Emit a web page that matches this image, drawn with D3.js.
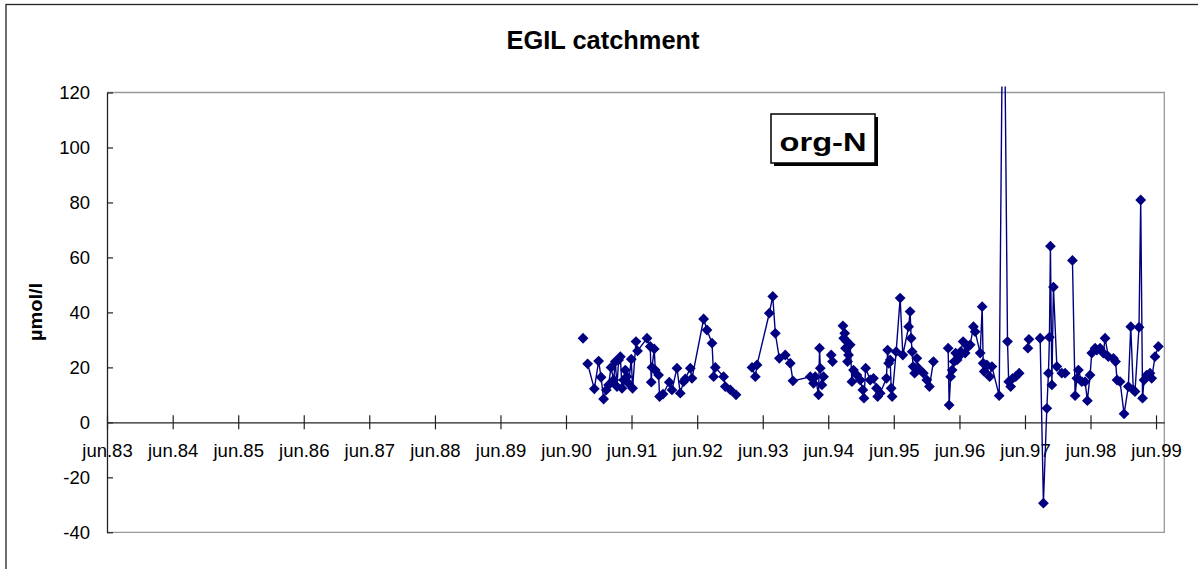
<!DOCTYPE html>
<html><head><meta charset="utf-8">
<script src="https://cdn.jsdelivr.net/npm/d3@7"></script>
<style>body{margin:0;background:#fff}svg{display:block}text{font-family:"Liberation Sans",Arial,sans-serif}</style>
</head><body>
<script>
// ---- data (decimal year of sampling, org-N in µmol/l; null = gap in the series) ----
const sampleYear = [
1990.674,null,
1990.744,1990.846,1990.912,1990.949,1990.988,1991.029,1991.064,1991.101,1991.141,1991.167,1991.192,1991.217,1991.243,1991.269,1991.293,1991.319,1991.345,1991.369,1991.410,1991.430,1991.482,1991.506,1991.650,1991.700,1991.715,1991.726,1991.761,1991.776,1991.827,1991.842,1991.894,1991.990,1992.031,1992.107,1992.157,1992.208,1992.234,1992.310,1992.336,1992.513,1992.564,1992.641,1992.665,1992.691,1992.817,1992.843,1992.920,1993.006,null,
1993.250,1993.301,1993.327,1993.514,1993.567,1993.606,1993.667,1993.758,1993.834,1993.875,1994.139,1994.189,1994.215,1994.266,1994.281,1994.292,1994.317,1994.342,null,
1994.459,1994.479,null,
1994.638,1994.650,1994.665,1994.677,1994.695,1994.708,1994.723,1994.749,1994.775,1994.799,1994.851,1994.901,1994.942,1994.959,1994.985,1995.054,1995.104,1995.150,1995.168,1995.206,1995.302,1995.320,1995.336,1995.359,1995.374,1995.389,1995.450,1995.511,1995.552,1995.641,1995.663,1995.679,1995.694,1995.709,1995.732,1995.766,1995.790,1995.866,1995.918,1995.958,1996.019,null,
1996.243,1996.258,1996.281,1996.304,1996.334,1996.357,1996.380,1996.403,1996.433,1996.471,1996.502,1996.548,1996.578,1996.628,1996.654,1996.731,1996.761,1996.776,1996.792,1996.833,1996.875,1996.909,1997.020,1997.086,1997.147,1997.165,1997.195,1997.226,1997.272,1997.325,null,
1997.458,1997.474,null,
1997.645,1997.695,1997.747,1997.772,1997.787,1997.802,1997.824,1997.848,1997.900,1997.976,1998.026,null,
1998.138,1998.179,1998.205,1998.229,1998.281,1998.331,1998.366,1998.407,1998.433,1998.484,1998.510,1998.560,1998.610,1998.636,1998.686,1998.763,1998.796,1998.819,1998.865,1998.926,1998.991,1999.028,1999.067,1999.093,1999.154,1999.180,1999.208,1999.231,1999.272,1999.322,1999.348,1999.398,1999.449
];
const orgN = [
30.6,null,
21.3,12.2,22.3,16.4,8.5,11.8,13.6,20.0,15.4,22.1,13.0,22.7,23.9,12.4,15.4,19.0,16.6,14.2,23.0,12.4,29.4,26.0,30.6,27.6,14.6,20.0,26.7,19.0,17.2,9.4,10.3,14.6,11.8,19.7,10.6,14.8,15.8,19.7,16.0,37.6,33.6,28.8,16.6,20.0,16.6,13.0,11.8,10.0,null,
20.0,16.6,20.9,39.7,45.8,32.4,23.3,24.5,21.5,15.1,16.6,14.2,16.6,10.0,27.0,19.7,13.6,16.6,null,
24.5,22.1,null,
35.1,30.6,32.4,27.0,29.5,22.1,24.5,28.2,14.8,19.0,17.2,15.4,11.8,8.8,19.7,15.4,16.0,12.4,9.4,10.6,16.0,26.3,21.5,22.7,12.4,9.4,25.7,45.2,24.5,34.8,40.3,30.6,25.7,20.3,17.9,23.3,19.7,17.9,15.4,13.0,22.1,null,
27.0,6.3,16.6,19.0,22.1,25.2,22.7,23.9,25.7,29.4,25.2,27.6,28.2,34.8,33.0,25.2,42.1,21.5,18.5,20.9,16.6,20.3,9.7,190,29.4,14.8,13.0,16.0,16.6,17.9,null,
27.0,30.2,null,
30.6,-29.4,5.1,17.9,31.0,64.1,13.6,49.2,20.3,17.9,17.9,null,
58.9,9.7,16.0,19.0,14.8,14.8,7.9,17.2,25.2,27.0,26.3,27.0,25.2,30.6,23.9,23.3,22.1,15.4,14.8,3.1,13.0,34.8,11.8,11.2,34.6,80.9,8.8,15.4,17.2,17.9,16.0,23.9,27.6
];
const tickYears = d3.range(1983, 2000);
const tickLabels = ["jun.83","jun.84","jun.85","jun.86","jun.87","jun.88","jun.89","jun.90","jun.91","jun.92","jun.93","jun.94","jun.95","jun.96","jun.97","jun.98","jun.99"];
const yTicks = [-40,-20,0,20,40,60,80,100,120];
const yTickLabels = ["-40","-20","0","20","40","60","80","100","120"];
const titleText = "EGIL catchment";
const yTitle = "µmol/l";
const boxLabel = "org-N";

function yearToDate(t){
  const y = Math.floor(t), a = Date.UTC(y,0,1), b = Date.UTC(y+1,0,1);
  return new Date(a + (t - y) * (b - a));
}
const data = sampleYear.map((t,i)=>({d: t==null?null:yearToDate(t), v: orgN[i]}));

const W = 1198, H = 569;
const L = 107, R = 1164.3, T = 92.5, B = 532.3;
const svg = d3.select("body").append("svg").attr("width",W).attr("height",H);

// outer frame
svg.append("rect").attr("x",6).attr("y",4.5).attr("width",1300).attr("height",700)
  .attr("fill","none").attr("stroke","#222").attr("stroke-width",1.3);

const x = d3.scaleUtc().domain([new Date(Date.UTC(1983,5,1)), yearToDate(1999.540)]).range([L,R]);
const y = d3.scaleLinear().domain([-40,120]).range([B,T]);

// plot area border (grey)
svg.append("path").attr("d",`M${L},${T}H${R}V${B}H${L}`).attr("fill","none").attr("stroke","#999").attr("stroke-width",1.3);

// y axis
const ya = svg.append("g").attr("transform",`translate(${L},0)`)
  .call(d3.axisLeft(y).tickValues(yTicks).tickFormat((d,i)=>yTickLabels[i]).tickSize(7).tickSizeOuter(0));
ya.select(".domain").attr("stroke","#222").attr("stroke-width",1.3);
ya.selectAll(".tick line").attr("x2",6).attr("stroke","#222").attr("stroke-width",1.2);
ya.selectAll(".tick text").attr("x",-17).attr("font-size",18.5).attr("fill","#000")
  .attr("font-family","'Liberation Sans',Arial,sans-serif");

// x axis at y=0
const xa = svg.append("g").attr("transform",`translate(0,${y(0)})`)
  .call(d3.axisBottom(x).tickValues(tickYears.map(yr=>new Date(Date.UTC(yr,5,1))))
    .tickFormat((d,i)=>tickLabels[i]).tickSize(7).tickSizeOuter(0));
xa.select(".domain").attr("stroke","#222").attr("stroke-width",1.3);
xa.selectAll(".tick line").attr("y1",-7).attr("stroke","#222").attr("stroke-width",1.2);
xa.selectAll(".tick text").attr("y",34.3).attr("dy",null).attr("font-size",18.5).attr("fill","#000")
  .attr("font-family","'Liberation Sans',Arial,sans-serif");

// clip for series
svg.append("clipPath").attr("id","clip").append("rect").attr("x",L-6).attr("y",86.5).attr("width",R-L+12).attr("height",B-86.5+6);
const g = svg.append("g").attr("clip-path","url(#clip)");
const line = d3.line().defined(p=>p.v!=null).x(p=>x(p.d)).y(p=>y(p.v));
g.append("path").datum(data).attr("d",line).attr("fill","none").attr("stroke","#000080").attr("stroke-width",1.4);
g.selectAll(".pt").data(data.filter(p=>p.v!=null)).join("path").attr("class","pt")
  .attr("transform",p=>`translate(${x(p.d)},${y(p.v)})`)
  .attr("d","M0,-5.4L5.4,0L0,5.4L-5.4,0Z").attr("fill","#000080");

// title
svg.append("text").attr("x",603).attr("y",48.5).attr("text-anchor","middle")
  .attr("font-size",25).attr("font-weight","bold").attr("textLength",193).attr("lengthAdjust","spacingAndGlyphs").text(titleText);

// y title
svg.append("text").attr("transform","translate(41.5,312) rotate(-90)").attr("text-anchor","middle")
  .attr("font-size",19).attr("font-weight","bold").attr("textLength",58).attr("lengthAdjust","spacingAndGlyphs").text(yTitle);

// org-N label box with shadow
svg.append("rect").attr("x",774).attr("y",117).attr("width",104).attr("height",49).attr("fill","#000");
svg.append("rect").attr("x",771).attr("y",114).attr("width",104).attr("height",49).attr("fill","#fff").attr("stroke","#000").attr("stroke-width",1.5);
svg.append("text").attr("x",823).attr("y",151).attr("text-anchor","middle")
  .attr("font-size",26).attr("font-weight","bold").attr("textLength",87).attr("lengthAdjust","spacingAndGlyphs").text(boxLabel);
</script>
</body></html>
